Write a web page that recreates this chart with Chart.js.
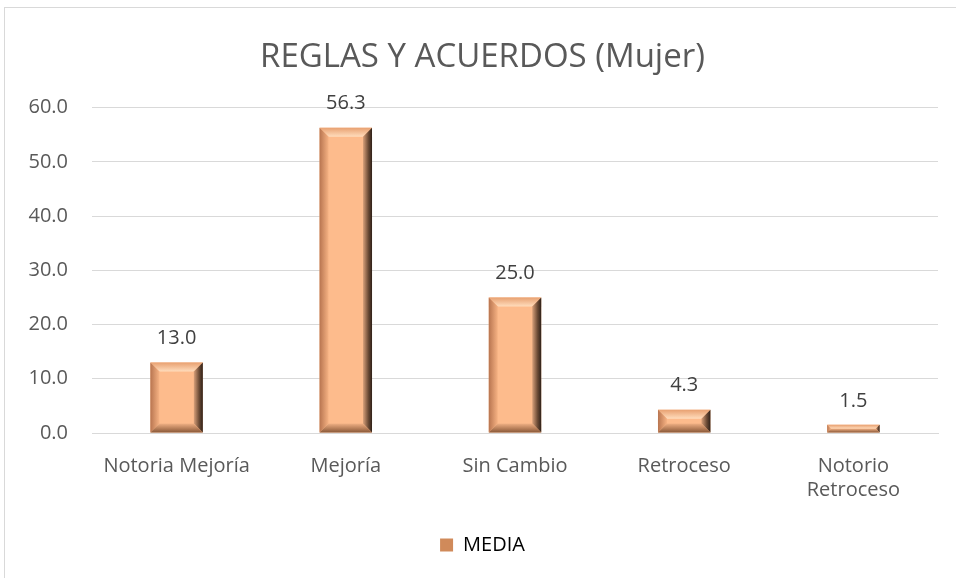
<!DOCTYPE html>
<html>
<head>
<meta charset="utf-8">
<script src="https://cdn.jsdelivr.net/npm/chart.js@4.4.1/dist/chart.umd.min.js"></script>
<style>
  html, body { margin: 0; padding: 0; background: #fff; overflow: hidden; }
  .frame { position: absolute; left: 4px; top: 7px; width: 1000px; height: 640px; border: 1px solid #d9d9d9; }
  .wrap { position: absolute; left: 0; top: 0; width: 956px; height: 578px; }
</style>
</head>
<body>
<div class="frame"></div>
<div class="wrap"><canvas id="chart" width="956" height="578"></canvas></div>
<script>
  // chart data
  const categories = ["Notoria Mejoría", "Mejoría", "Sin Cambio", "Retroceso", ["Notorio", "Retroceso"]];
  const media = [13.0, 56.3, 25.0, 4.3, 1.5];
  const seriesName = "MEDIA";
  const titleText = "REGLAS Y ACUERDOS (Mujer)";

  const textColor = "#595959";
  const faceColor = "#fdbb8c";
  const fontFam = "'Open Sans'";

  // draw the bevel look on each bar, using the bar element geometry
  const bevelPlugin = {
    id: "bevel",
    afterDatasetsDraw(chart) {
      const ctx = chart.ctx;
      chart.getDatasetMeta(0).data.forEach((bar) => {
        const p = bar.getProps(["x", "y", "base", "width"], true);
        const l = p.x - p.width / 2, r = p.x + p.width / 2;
        const t = p.y, b = p.base;
        const h = b - t;
        const s = Math.min(9, h / 2, p.width / 4);
        ctx.save();
        // top
        let g = ctx.createLinearGradient(0, t, 0, t + s);
        g.addColorStop(0, "#e8a070");
        g.addColorStop(1, "#ffdcbc");
        ctx.fillStyle = g;
        ctx.beginPath();
        ctx.moveTo(l, t); ctx.lineTo(r, t); ctx.lineTo(r - s, t + s); ctx.lineTo(l + s, t + s); ctx.closePath(); ctx.fill();
        // left
        g = ctx.createLinearGradient(l, 0, l + s, 0);
        g.addColorStop(0, "#b87550");
        g.addColorStop(1, "#f6b283");
        ctx.fillStyle = g;
        ctx.beginPath();
        ctx.moveTo(l, t); ctx.lineTo(l + s, t + s); ctx.lineTo(l + s, b - s); ctx.lineTo(l, b); ctx.closePath(); ctx.fill();
        // right
        g = ctx.createLinearGradient(r - s, 0, r, 0);
        g.addColorStop(0, "#d8a07a");
        g.addColorStop(0.6, "#6a4a35");
        g.addColorStop(1, "#2e2018");
        ctx.fillStyle = g;
        ctx.beginPath();
        ctx.moveTo(r, t); ctx.lineTo(r, b); ctx.lineTo(r - s, b - s); ctx.lineTo(r - s, t + s); ctx.closePath(); ctx.fill();
        // bottom
        g = ctx.createLinearGradient(0, b - s, 0, b);
        g.addColorStop(0, "#f0b084");
        g.addColorStop(1, "#8a5838");
        ctx.fillStyle = g;
        ctx.beginPath();
        ctx.moveTo(l, b); ctx.lineTo(r, b); ctx.lineTo(r - s, b - s); ctx.lineTo(l + s, b - s); ctx.closePath(); ctx.fill();
        ctx.restore();
      });
    }
  };

  // value labels over the bars
  const valueLabels = {
    id: "valueLabels",
    afterDatasetsDraw(chart) {
      const ctx = chart.ctx;
      const ds = chart.data.datasets[0];
      ctx.save();
      ctx.font = "20px " + fontFam;
      ctx.fillStyle = "#404040";
      ctx.textAlign = "center";
      ctx.textBaseline = "middle";
      chart.getDatasetMeta(0).data.forEach((bar, i) => {
        ctx.fillText(ds.data[i].toFixed(1), bar.x, bar.y - 24);
      });
      ctx.restore();
    }
  };

  new Chart(document.getElementById("chart"), {
    type: "bar",
    data: {
      labels: categories,
      datasets: [{
        label: seriesName,
        data: media,
        backgroundColor: faceColor,
        borderWidth: 0,
        barPercentage: 0.31,
        categoryPercentage: 1
      }]
    },
    options: {
      responsive: false,
      animation: false,
      layout: { padding: { left: 27, right: 18, top: 18, bottom: 13 } },
      plugins: {
        title: {
          display: true,
          text: titleText,
          color: textColor,
          font: { family: fontFam, size: 33, weight: "normal" },
          padding: { top: 20, bottom: 30 }
        },
        legend: {
          position: "bottom",
          labels: {
            color: textColor,
            font: { family: fontFam, size: 20 },
            boxWidth: 13,
            boxHeight: 13,
            padding: 10,
            generateLabels: () => [{ text: seriesName, fillStyle: "#d08a5a", strokeStyle: "#8a5a3a", lineWidth: 0 }]
          }
        },
        tooltip: { enabled: false }
      },
      scales: {
        x: {
          grid: { display: false, drawTicks: false },
          border: { color: "#d9d9d9" },
          ticks: { color: textColor, font: { family: fontFam, size: 20 }, padding: 21, maxRotation: 0 },
          afterFit: (scale) => { scale.height += 2; }
        },
        y: {
          min: 0,
          max: 60,
          grid: { color: "#d9d9d9", drawTicks: false },
          border: { display: false },
          ticks: {
            stepSize: 10,
            color: textColor,
            font: { family: fontFam, size: 20 },
            padding: 24,
            callback: (v) => v.toFixed(1)
          },
          afterFit: (scale) => { scale.width = 65; }
        }
      }
    },
    plugins: [bevelPlugin, valueLabels]
  });
</script>
</body>
</html>
